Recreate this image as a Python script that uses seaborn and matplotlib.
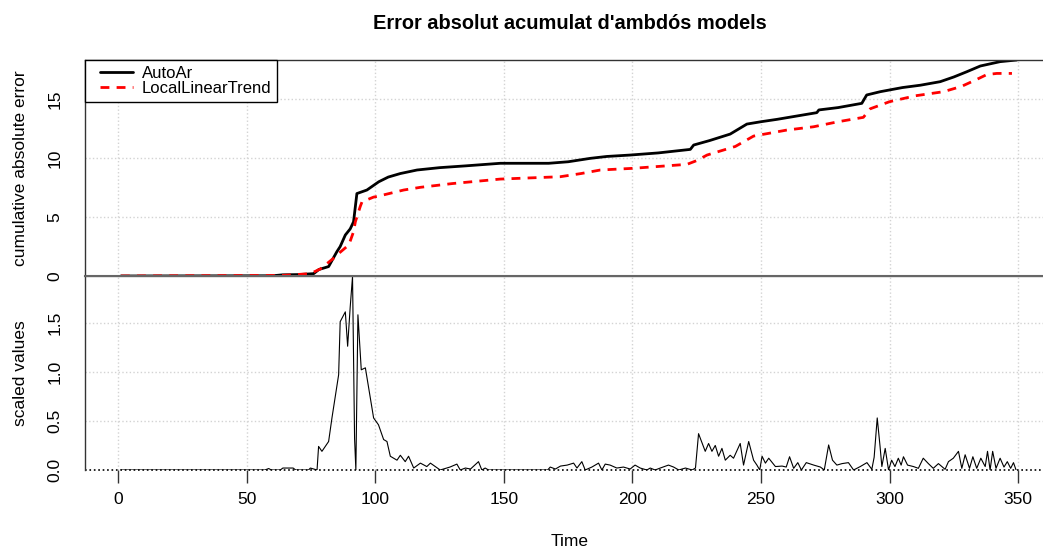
import numpy as np
import pandas as pd
import seaborn as sns
import matplotlib
matplotlib.use("Agg")
import matplotlib.pyplot as plt
from matplotlib.legend_handler import HandlerLine2D

# cumulative absolute error, AutoAr model
auto_t = [1, 60, 64, 70, 76, 78, 81.8, 85, 86.3, 88.3, 90.2, 91.5, 92.8, 96.7, 101.3, 105,
          109.7, 116.2, 125, 135, 148.6, 167.4, 175, 183.6, 190, 199.1, 210, 222.5, 223.8,
          230, 238, 244.5, 250, 256.2, 263, 271.7, 272.5, 280, 289.2, 291.1, 296.4, 305,
          312, 319.7, 325, 330, 335.3, 343, 349.5]
auto_v = [0, 0.02, 0.1, 0.12, 0.2, 0.55, 0.8, 2.06, 2.5, 3.48, 4.0, 4.6, 7.0, 7.3, 8.0, 8.4,
          8.7, 9.0, 9.2, 9.35, 9.57, 9.57, 9.7, 9.99, 10.15, 10.27, 10.45, 10.75, 11.12,
          11.5, 12.05, 12.9, 13.1, 13.3, 13.55, 13.87, 14.1, 14.3, 14.66, 15.37, 15.65, 16.0,
          16.2, 16.5, 16.9, 17.34, 17.83, 18.2, 18.34]

# cumulative absolute error, LocalLinearTrend model
llt_t = [1, 64, 74.7, 78.6, 83.7, 85, 88.9, 89.6, 91.5, 92.2, 94.1, 94.8, 99.3, 100.6, 111,
         117.5, 130, 148.6, 171.9, 180, 187.5, 200, 221.2, 225, 229, 240, 247.1, 260, 270.4,
         280, 289.8, 292.5, 300, 310, 321, 328, 334, 337.8, 341.7, 347.6]
llt_v = [0, 0.05, 0.2, 0.6, 1.5, 1.78, 2.5, 2.6, 3.76, 4.6, 5.9, 6.3, 6.7, 6.75, 7.3,
         7.53, 7.85, 8.23, 8.43, 8.7, 9.0, 9.14, 9.48, 9.8, 10.27, 11.0, 11.88, 12.39, 12.67,
         13.1, 13.47, 14.2, 14.8, 15.3, 15.65, 16.1, 16.7, 17.1, 17.2, 17.2]

# scaled values (lower panel)
sc_t = [1, 57, 58.5, 59.5, 63, 64, 68, 69, 74, 74.7, 77.3, 77.9, 79.2, 81.8, 83.1, 85.7,
        86.3, 88.3, 89.2, 90.2, 91.1, 91.9, 92.4, 93.2, 94.5, 96.1, 99.3, 101.2, 103.2,
        104.5, 105.8, 108.4, 109.7, 111.6, 112.9, 114.9, 117.5, 120, 121.4, 125.2, 129,
        131.7, 133, 135, 137, 140.1, 141.4, 142.7, 144, 167, 168, 170, 172, 174.6, 177.1,
        178.4, 180.3, 181.6, 184.2, 186.8, 188.1, 189.4, 191.3, 193.9, 196.5, 199.1, 201,
        203, 205.6, 206.9, 208.8, 210.8, 214, 216, 218, 220.6, 223.2, 224.5, 225.7, 228.3,
        229.6, 230.9, 232.2, 233.5, 234.8, 236.1, 238, 239.3, 241.9, 243.2, 245.2, 247.1,
        248.4, 249.5, 250.4, 251.7, 253, 255.6, 258.2, 259.8, 261.1, 262.7, 264.3, 265.7,
        267.6, 270.5, 273.1, 274.6, 276.3, 277.8, 279.5, 281.5, 284, 286, 288.6, 291.2,
        293.1, 294, 295.2, 296.3, 297, 298.3, 299.6, 300.8, 302.1, 303.4, 304.5, 305.4,
        307, 309.3, 311.2, 313.1, 315.1, 317, 319, 321.6, 322.9, 324.8, 326.8, 328.1,
        329.4, 331.1, 332.4, 333.9, 335.5, 337.2, 338.1, 339.1, 340.1, 341.4, 343, 344.5,
        345.8, 347.1, 348.2, 349.2]
sc_v = [0, 0, 0.015, 0, 0, 0.02, 0.02, 0, 0, 0.02, 0, 0.24, 0.19, 0.29, 0.53, 0.97,
        1.51, 1.61, 1.26, 1.66, 1.97, 0.32, 0, 1.58, 1.02, 1.04, 0.53, 0.46, 0.31,
        0.29, 0.14, 0.1, 0.15, 0.085, 0.14, 0.02, 0.07, 0.035, 0.07, 0, 0.03,
        0.06, 0, 0.02, 0.01, 0.085, 0, 0.02, 0, 0, 0.03, 0.01, 0.04, 0.05, 0.07,
        0.02, 0.085, 0, 0.03, 0.07, 0, 0.06, 0.05, 0.02, 0.03, 0.01, 0.05,
        0.02, 0, 0.02, 0, 0.02, 0.05, 0.03, 0, 0.02, 0, 0.02, 0.37, 0.19,
        0.27, 0.19, 0.25, 0.14, 0.22, 0.10, 0.15, 0.12, 0.27, 0.05, 0.29, 0.10,
        0.05, 0, 0.14, 0.07, 0.12, 0.035, 0.04, 0.03, 0.135, 0.017, 0.075, 0,
        0.075, 0.05, 0.03, 0, 0.255, 0.1, 0.05, 0.065, 0.075, 0, 0.035, 0.075,
        0.007, 0.13, 0.53, 0.24, 0.035, 0.22, 0, 0.1, 0.035, 0.12, 0.05, 0.135,
        0.05, 0.035, 0.017, 0.12, 0.065, 0.017, 0.065, 0.007, 0.085, 0.12, 0.19, 0.017,
        0.155, 0.017, 0.135, 0.017, 0.12, 0.035, 0.19, 0, 0.19, 0.017, 0.12, 0.03,
        0.085, 0.017, 0.075, 0]

x_ticks = [0, 50, 100, 150, 200, 250, 300, 350]
top_ticks = [0, 5, 10, 15]
bot_ticks = [0.0, 0.5, 1.0, 1.5]
bot_labels = ["0.0", "0.5", "1.0", "1.5"]

sns.set_style("white")
plt.rcParams['font.family'] = ['Liberation Sans', 'DejaVu Sans']
plt.rcParams['text.color'] = 'black'
plt.rcParams['axes.labelcolor'] = 'black'
plt.rcParams['xtick.color'] = 'black'
plt.rcParams['ytick.color'] = 'black'

fig = plt.figure(figsize=(10.43, 5.47), dpi=100)
W, H = 1043, 547
left, right = 85, 1054
ax1 = fig.add_axes([left / W, (H - 276) / H, (right - left) / W, 216 / H])
ax2 = fig.add_axes([left / W, (H - 470) / H, (right - left) / W, 194 / H])

xlim = (-12.96, 363.96)

# top panel
sns.lineplot(x=auto_t, y=auto_v, ax=ax1, color="black", lw=2, label="AutoAr")
sns.lineplot(x=llt_t, y=llt_v, ax=ax1, color="red", lw=2, label="LocalLinearTrend",
             dashes=False)
ax1.lines[1].set_dashes((3.2, 2.6))
ax1.set_xlim(*xlim)
ax1.set_ylim(0, 18.34)
ax1.set_xticks(x_ticks)
ax1.set_yticks(top_ticks)
ax1.set_yticklabels([str(v) for v in top_ticks])
ax1.tick_params(axis='x', bottom=False, labelbottom=False)
for v in x_ticks:
    ax1.axvline(v, color="#d3d3d3", ls=":", lw=1, zorder=0)
for v in [5, 10, 15]:
    ax1.axhline(v, color="#d3d3d3", ls=":", lw=1, zorder=0)
ax1.set_ylabel("cumulative absolute error", fontsize=12.5, labelpad=14)
leg = ax1.legend(loc="upper left", borderaxespad=0, fontsize=12, frameon=True,
                 fancybox=False, framealpha=1, edgecolor="black", handlelength=3.07,
                 handletextpad=0.0, labelspacing=0.0, borderpad=0.35,
                 handler_map={matplotlib.lines.Line2D: HandlerLine2D(numpoints=2, marker_pad=0.55)})
leg.get_frame().set_linewidth(1)
ax1.set_title("Error absolut acumulat d'ambdós models", fontsize=14.4, fontweight="bold",
              pad=22)

# bottom panel
sns.lineplot(x=sc_t, y=sc_v, ax=ax2, color="black", lw=0.8)
ax2.set_xlim(*xlim)
ax2.set_ylim(0, 1.975)
ax2.set_xticks(x_ticks)
ax2.set_xticklabels([str(v) for v in x_ticks])
ax2.set_yticks(bot_ticks)
ax2.set_yticklabels(bot_labels)
for v in x_ticks:
    ax2.axvline(v, color="#d3d3d3", ls=":", lw=1, zorder=0)
for v in [0.5, 1.0, 1.5]:
    ax2.axhline(v, color="#d3d3d3", ls=":", lw=1, zorder=0)
ax2.axhline(0, color="black", ls=":", lw=1.2, zorder=1, clip_on=False)
ax2.set_ylabel("scaled values", fontsize=12.5, labelpad=14)
ax2.set_xlabel("Time", fontsize=12.5, labelpad=19)

for ax in (ax1, ax2):
    ax.tick_params(axis='both', direction='out', length=7, width=1, color="#333333",
                   labelsize=12.5)
    ax.tick_params(axis='y', labelrotation=90, pad=9)
    for lab in ax.get_yticklabels():
        lab.set_va("center")
    ax.spines['right'].set_visible(False)
    for s in ax.spines.values():
        s.set_color("#333333")
        s.set_linewidth(1)
ax2.tick_params(axis='x', bottom=True, length=9, pad=7)
ax2.spines['bottom'].set_visible(False)
ax2.spines['top'].set_color("#666666")
ax1.spines['bottom'].set_color("#666666")
ax1.spines['bottom'].set_linewidth(1.5)

fig.savefig("out.png", dpi=100)
